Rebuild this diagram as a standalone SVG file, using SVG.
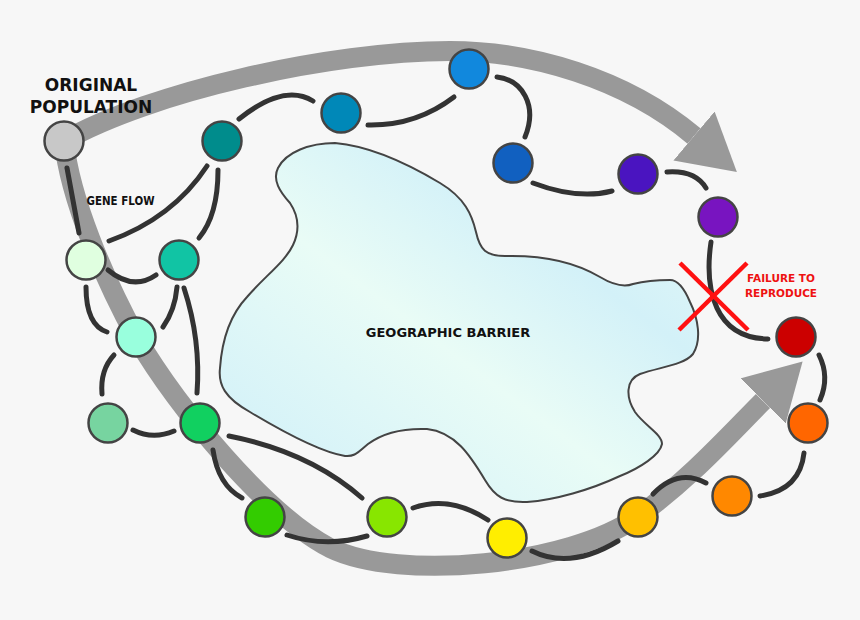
<svg xmlns="http://www.w3.org/2000/svg" width="860" height="620" viewBox="0 0 860 620">
<defs>
  <linearGradient id="water" x1="0" y1="1" x2="1" y2="0">
    <stop offset="0" stop-color="#cdeef9"/>
    <stop offset="0.45" stop-color="#e9fcf6"/>
    <stop offset="0.7" stop-color="#d3f1f8"/>
    <stop offset="1" stop-color="#e6faf7"/>
  </linearGradient>
  <marker id="ah" markerUnits="userSpaceOnUse" markerWidth="56" markerHeight="64" viewBox="0 0 56 64" refX="0" refY="32" orient="auto">
    <path d="M0,0 L56,32 L0,64 Z" fill="#999999"/>
  </marker>
  <style>
    .band{fill:none;stroke:#999999;stroke-width:20;stroke-linecap:butt}
    .link{fill:none;stroke:#333333;stroke-width:5;stroke-linecap:round}
    .node circle{stroke:#444444;stroke-width:2.5}
    .lbl{font-family:"DejaVu Sans","Liberation Sans",sans-serif;font-weight:bold;text-anchor:middle;fill:#111111}
    .red{fill:#ee1111}
    .cross{stroke:#ff1111;stroke-width:4.5;stroke-linecap:butt}
  </style>
</defs>
<rect x="0" y="0" width="860" height="620" fill="#f7f7f7"/>

<g id="barrier">
  <path d="M290,203 C280,192 272,180 278,168 C286,152 310,143 335,143 C370,146 410,165 440,183 C465,198 472,215 476,232 C480,250 486,256 505,256 C545,255 575,262 600,277 C615,286 625,287 633,284 C645,281 660,280 670,280 C678,280 685,290 690,302 C698,318 702,340 693,354 C684,365 660,367 640,374 C625,380 626,398 635,412 C645,426 662,434 662,444 C660,455 640,468 620,476 C590,490 555,500 527,502 C505,503 495,497 485,480 C470,455 455,432 427,429 C400,428 380,435 368,444 C358,452 355,457 345,456 C320,452 280,430 250,412 C225,398 218,385 220,368 C222,340 230,315 247,297 C265,276 285,262 293,245 C300,230 298,215 290,203 Z" fill="url(#water)" stroke="#444444" stroke-width="2"/>
  <text class="lbl" x="448" y="337" font-size="13">GEOGRAPHIC BARRIER</text>
</g>

<g id="arrows">
  <path class="band" d="M64,141 C150,92 330,51 450,51 C530,51 625,78 694,136" marker-end="url(#ah)"/>
  <path class="band" d="M64,141 C70,200 105,280 136,337 C178,408 265,514 330,548 C400,582 570,565 637,517 C690,479 728,436 763,401" marker-end="url(#ah)"/>
</g>

<g id="connectors">
  <path class="link" d="M67,168 L79,233"/>
  <path class="link" d="M109,241 Q173,218 207,166"/>
  <path class="link" d="M218,170 Q218,215 199,238"/>
  <path class="link" d="M108,270 Q133,291 156,275"/>
  <path class="link" d="M86,287 Q86,325 107,332"/>
  <path class="link" d="M177,287 Q175,310 163,327"/>
  <path class="link" d="M184,288 Q201,340 197,393"/>
  <path class="link" d="M114,355 Q100,370 102,394"/>
  <path class="link" d="M133,430 Q153,440 174,431"/>
  <path class="link" d="M213,450 Q218,485 242,498"/>
  <path class="link" d="M229,436 Q310,452 362,498"/>
  <path class="link" d="M287,535 Q326,548 367,536"/>
  <path class="link" d="M413,508 Q450,495 488,520"/>
  <path class="link" d="M532,551 Q570,570 618,541"/>
  <path class="link" d="M653,494 Q678,468 706,483"/>
  <path class="link" d="M760,496 Q800,490 804,453"/>
  <path class="link" d="M819,355 Q830,377 820,400"/>
  <path class="link" d="M711,242 C704,290 715,338 768,339"/>
  <path class="link" d="M667,172 Q695,170 706,188"/>
  <path class="link" d="M533,183 Q578,200 612,191"/>
  <path class="link" d="M497,77 C522,80 538,105 525,137"/>
  <path class="link" d="M368,125 Q416,126 454,97"/>
  <path class="link" d="M239,119 Q284,83 313,101"/>
</g>

<g id="n-original" class="node"><circle cx="64" cy="141" r="19.5" fill="#c8c8c8"/></g>
<g id="n-teal-dark" class="node"><circle cx="222" cy="141" r="19.5" fill="#008c8c"/></g>
<g id="n-blue-teal" class="node"><circle cx="341" cy="113" r="19.5" fill="#0088b8"/></g>
<g id="n-light-blue" class="node"><circle cx="469" cy="69" r="19.5" fill="#1188dd"/></g>
<g id="n-blue" class="node"><circle cx="513" cy="163" r="19.5" fill="#1160c0"/></g>
<g id="n-indigo" class="node"><circle cx="638" cy="174" r="19.5" fill="#4a14c0"/></g>
<g id="n-purple" class="node"><circle cx="718" cy="217" r="19.5" fill="#7814c0"/></g>
<g id="n-red" class="node"><circle cx="796" cy="337" r="19.5" fill="#cc0000"/></g>
<g id="n-orange-red" class="node"><circle cx="808" cy="423" r="19.5" fill="#ff6600"/></g>
<g id="n-orange" class="node"><circle cx="732" cy="496" r="19.5" fill="#ff8800"/></g>
<g id="n-gold" class="node"><circle cx="638" cy="517" r="19.5" fill="#ffc000"/></g>
<g id="n-yellow" class="node"><circle cx="507" cy="538" r="19.5" fill="#ffee00"/></g>
<g id="n-yellow-green" class="node"><circle cx="387" cy="517" r="19.5" fill="#88e600"/></g>
<g id="n-green" class="node"><circle cx="265" cy="517" r="19.5" fill="#33cc00"/></g>
<g id="n-green-mid" class="node"><circle cx="200" cy="423" r="19.5" fill="#11d060"/></g>
<g id="n-sea-green" class="node"><circle cx="108" cy="423" r="19.5" fill="#77d4a0"/></g>
<g id="n-aqua" class="node"><circle cx="136" cy="337" r="19.5" fill="#99ffdd"/></g>
<g id="n-teal" class="node"><circle cx="179" cy="260" r="19.5" fill="#11c4a4"/></g>
<g id="n-mint" class="node"><circle cx="86" cy="260" r="19.5" fill="#e0ffe0"/></g>

<g id="labels">
  <text class="lbl" x="91" y="90.5" font-size="17">ORIGINAL</text>
  <text class="lbl" x="91" y="113" font-size="17">POPULATION</text>
  <text class="lbl" x="120.5" y="205" font-size="11" textLength="68" lengthAdjust="spacingAndGlyphs" style="font-size:11.8px">GENE FLOW</text>
</g>

<g id="failure">
  <line class="cross" x1="680" y1="263" x2="748" y2="330"/>
  <line class="cross" x1="747" y1="263" x2="679" y2="330"/>
  <text class="lbl red" x="781" y="282" font-size="10.5">FAILURE TO</text>
  <text class="lbl red" x="781" y="296.5" font-size="10.5">REPRODUCE</text>
</g>
</svg>
